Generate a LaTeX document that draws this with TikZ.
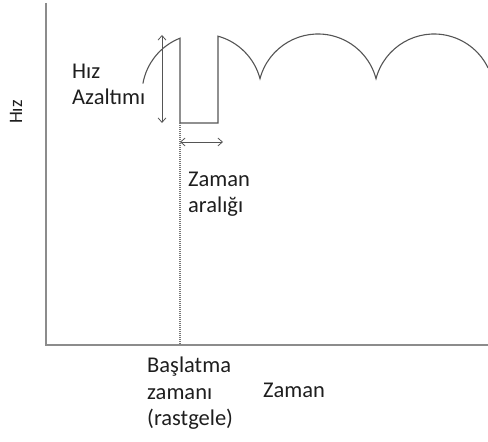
\documentclass[tikz,border=0pt]{standalone}
\usepackage{fontspec}
\setmainfont{Carlito}
\usepackage{xcolor}
\usepackage{tikz}
\usetikzlibrary{arrows.meta,positioning,calc}
\definecolor{cAxis}{HTML}{8C8C8C}
\definecolor{cCurve}{HTML}{555555}
\definecolor{cText}{HTML}{1E1E1E}
\tikzset{
  axisline/.style={line width=1.4pt, draw=cAxis},
  speed/.style={line width=1.1pt, draw=cCurve},
  span/.style={{Straight Barb[length=1.6mm,width=2.8mm]}-{Straight Barb[length=1.6mm,width=2.8mm]}, line width=0.8pt, draw=cCurve},
  marker/.style={line width=1.1pt, draw=cCurve!80, dash pattern=on 1pt off 1pt},
  lbl/.style={font=\fontsize{22.5}{26.5}\selectfont, text=cText, align=left, inner sep=0pt},
}
\begin{document}
\begin{tikzpicture}[x=1pt, y=1pt]
  \useasboundingbox (0,0) rectangle (488,442);
  % axes
  \coordinate (o) at (46,97);
  \coordinate (ytop) at (46,439);
  \coordinate (xend) at (488,97);
  \draw[axisline] (ytop) -- (o) -- (xend);
  % speed profile --- arcs, then the reduction window
  \draw[speed] ([shift={(170:60)}]202,348) arc[start angle=170, end angle=111.5, radius=60]
    -- (180,319) coordinate (dipL) -- (218,319) coordinate (dipR)
    -- ([shift={(74.5:60)}]202,348) arc[start angle=74.5, end angle=14.8, radius=60]
    arc[start angle=165.2, end angle=14.8, radius=60]
    arc[start angle=165.2, end angle=25.8, radius=60];
  % start time marker
  \coordinate (start) at (180,97);
  \draw[marker] (dipL) -- (start);
  % reduction and interval arrows
  \coordinate (redT) at (162,407);
  \coordinate (redB) at (162,319);
  \draw[span] (redT) -- (redB);
  \coordinate (winL) at (180,300);
  \coordinate (winR) at (223,300);
  \draw[span] (winL) -- (winR);
  % labels (base = last line)
  \node[lbl, anchor=base west] (red) at (72,337) {Hız\\Azaltımı};
  \node[lbl, anchor=base west] (win) at (188,229) {Zaman\\aralığı};
  \node[lbl, anchor=base west] (st) at (147,16) {Başlatma\\zamanı\\(rastgele)};
  \node[lbl, anchor=base west] (xl) at (263,44) {Zaman};
  \node[lbl, font=\fontsize{19}{22}\selectfont, rotate=90, anchor=base] (yl) at (22,330) {Hız};
\end{tikzpicture}
\end{document}
